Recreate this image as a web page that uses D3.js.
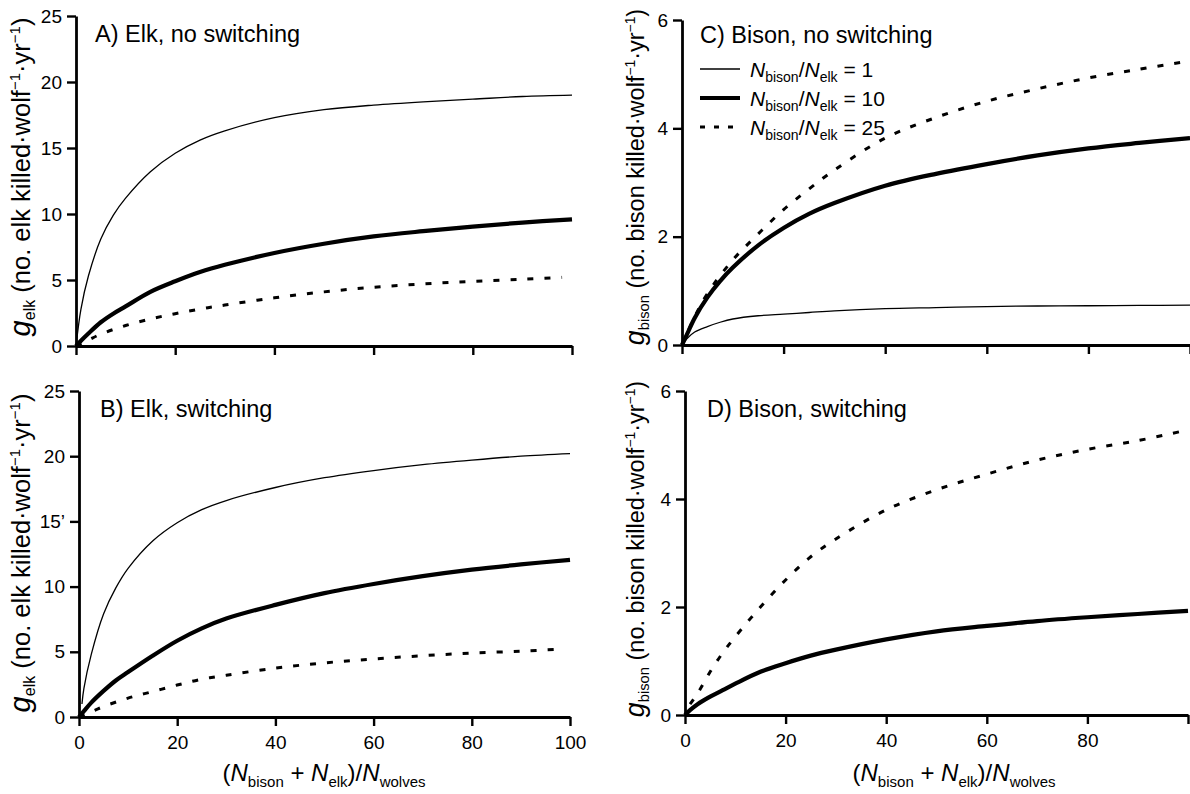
<!DOCTYPE html>
<html>
<head>
<meta charset="utf-8">
<script src="https://cdn.jsdelivr.net/npm/d3@7"></script>
<style>
  body { margin: 0; background: #fff; }
  svg { display: block; font-family: "Liberation Sans", Arial, sans-serif; }
  .axis path, .axis line { stroke: #000; }
  .axis text { font-size: 19px; fill: #000; }
</style>
</head>
<body>
<svg id="chart" width="1190" height="794"></svg>
<script>
// x grid: (N_bison + N_elk) / N_wolves
const nGrid = [0, 1, 2.5, 5, 7.5, 10, 15, 20, 25, 30, 40, 50, 60, 70, 80, 90, 100];
const nDash = [0, 2.5, 5, 10, 15, 20, 25, 30, 40, 50, 60, 70, 80, 90, 98];

// A) Elk, no switching
const elkNoSw1  = [0, 2.8, 5.3, 8.1, 9.9, 11.2, 13.2, 14.6, 15.6, 16.3, 17.3, 17.9, 18.25, 18.5, 18.7, 18.9, 19.0];
const elkNoSw10 = [0, 0.4, 0.95, 1.8, 2.45, 3.0, 4.1, 4.9, 5.6, 6.15, 7.05, 7.75, 8.3, 8.7, 9.05, 9.35, 9.6];
const elkNoSw25 = [0, 0.45, 0.9, 1.55, 2.05, 2.45, 2.8, 3.1, 3.65, 4.1, 4.45, 4.7, 4.9, 5.05, 5.2];

// B) Elk, switching
const nElkSw1   = [0.6, 1, 2.5, 5, 7.5, 10, 15, 20, 25, 30, 40, 50, 60, 70, 80, 90, 100];
const elkSw1    = [1.0, 2.2, 4.8, 7.9, 9.9, 11.4, 13.5, 14.9, 15.9, 16.6, 17.6, 18.35, 18.9, 19.35, 19.7, 20.0, 20.2];
const elkSw10   = [0, 0.45, 1.1, 2.0, 2.8, 3.45, 4.7, 5.85, 6.8, 7.55, 8.6, 9.5, 10.2, 10.8, 11.3, 11.7, 12.05];
const elkSw25   = [0, 0.4, 0.8, 1.45, 1.95, 2.45, 2.9, 3.2, 3.75, 4.15, 4.45, 4.7, 4.9, 5.05, 5.2];

// C) Bison, no switching
const nBisonDash = [0, 2.5, 5, 10, 15, 20, 25, 30, 40, 50, 60, 70, 80, 90, 99];
const bisonNoSw1  = [0, 0.12, 0.24, 0.34, 0.42, 0.48, 0.54, 0.57, 0.6, 0.63, 0.67, 0.69, 0.71, 0.72, 0.725, 0.73, 0.735];
const bisonNoSw10 = [0, 0.2, 0.5, 0.88, 1.18, 1.43, 1.84, 2.16, 2.42, 2.62, 2.94, 3.16, 3.34, 3.5, 3.63, 3.73, 3.82];
const bisonNoSw25 = [0, 0.52, 0.95, 1.57, 2.05, 2.5, 2.88, 3.23, 3.82, 4.2, 4.5, 4.73, 4.93, 5.09, 5.23];

// D) Bison, switching
const nBisonSwDash = [1, 2.5, 5, 7.5, 10, 15, 20, 25, 30, 40, 50, 60, 70, 80, 90, 99];
const bisonSw10 = [0, 0.09, 0.2, 0.34, 0.46, 0.58, 0.8, 0.96, 1.1, 1.21, 1.4, 1.55, 1.65, 1.74, 1.81, 1.87, 1.93];
const bisonSw25 = [0.2, 0.4, 0.8, 1.15, 1.45, 2.0, 2.5, 2.93, 3.26, 3.8, 4.17, 4.46, 4.72, 4.92, 5.08, 5.26];

const xTicks = [0, 20, 40, 60, 80, 100];
const xTickLabelsD = ["0", "20", "40", "60", "80", ""];
const elkTicks = [0, 5, 10, 15, 20, 25];
const elkTickLabelsB = ["0", "5", "10", "15’", "20", "25"];
const bisonTicks = [0, 2, 4, 6];

const styles = {
  r1:  {w: 1.3, dash: null},
  r10: {w: 4.2, dash: null},
  r25: {w: 3, dash: "6,11"}
};

const svg = d3.select("#chart");

function zip(xs, ys) { return xs.map((x, i) => [x, ys[i]]); }

const panels = [
  {title: "A) Elk, no switching", xr: [76, 572], yr: [346, 16], ymax: 25, yt: elkTicks, xlab: null,
   tx: 95, ty: 42, species: "elk", titleY: 177, titleX: 30, fs: 25.5,
   series: [[zip(nGrid, elkNoSw1), "r1"], [zip(nGrid, elkNoSw10), "r10"], [zip(nDash, elkNoSw25), "r25"]]},
  {title: "B) Elk, switching", xr: [79, 570], yr: [717, 391], ymax: 25, yt: elkTicks, ytl: elkTickLabelsB,
   xlab: xTicks.map(String),
   tx: 100, ty: 417, species: "elk", titleY: 553, titleX: 30, fs: 25.5,
   series: [[zip(nElkSw1, elkSw1), "r1"], [zip(nGrid, elkSw10), "r10"], [zip(nDash, elkSw25), "r25"]]},
  {title: "C) Bison, no switching", xr: [682, 1190], yr: [345, 20], ymax: 6, yt: bisonTicks, xlab: null,
   tx: 700, ty: 43, species: "bison", titleY: 177, titleX: 644, fs: 23.5,
   series: [[zip(nGrid, bisonNoSw1), "r1"], [zip(nGrid, bisonNoSw10), "r10"], [zip(nBisonDash, bisonNoSw25), "r25"]]},
  {title: "D) Bison, switching", xr: [685, 1188], yr: [715, 391], ymax: 6, yt: bisonTicks, xlab: xTickLabelsD,
   tx: 707, ty: 417, species: "bison", titleY: 549, titleX: 644, fs: 23.5,
   series: [[zip(nGrid, bisonSw10), "r10"], [zip(nBisonSwDash, bisonSw25), "r25"]]}
];

panels.forEach(p => {
  const x = d3.scaleLinear().domain([0, 100]).range(p.xr);
  const y = d3.scaleLinear().domain([0, p.ymax]).range(p.yr);
  const line = d3.line().x(d => x(d[0])).y(d => y(d[1])).curve(d3.curveCatmullRom.alpha(0.5));

  const g = svg.append("g");

  p.series.forEach(([data, key]) => {
    const s = styles[key];
    g.append("path").datum(data)
      .attr("d", line)
      .attr("fill", "none")
      .attr("stroke", "#000")
      .attr("stroke-width", s.w)
      .attr("stroke-dasharray", s.dash)
      .attr("stroke-linejoin", "round");
  });

  const xAxis = d3.axisBottom(x).tickValues(xTicks).tickSize(9).tickSizeOuter(0).tickPadding(10)
    .tickFormat((d, i) => p.xlab ? p.xlab[i] : "");
  g.append("g").attr("class", "axis")
    .attr("transform", "translate(0," + p.yr[0] + ")")
    .call(xAxis)
    .call(a => a.select(".domain").attr("stroke-width", 2.8))
    .call(a => a.selectAll(".tick line").attr("stroke-width", 2.4));

  const yAxis = d3.axisLeft(y).tickValues(p.yt).tickSize(9).tickSizeOuter(0).tickPadding(5)
    .tickFormat((d, i) => p.ytl ? p.ytl[i] : String(d));
  g.append("g").attr("class", "axis")
    .attr("transform", "translate(" + p.xr[0] + ",0)")
    .call(yAxis)
    .call(a => a.select(".domain").attr("stroke-width", 2.8))
    .call(a => a.selectAll(".tick line").attr("stroke-width", 2.4));

  // panel title
  g.append("text").attr("x", p.tx).attr("y", p.ty)
    .style("font-size", "23.5px").text(p.title);

  // y-axis title
  const k = p.fs / 25.5;
  const yt = g.append("text")
    .attr("transform", "translate(" + p.titleX + "," + p.titleY + ") rotate(-90)")
    .attr("text-anchor", "middle")
    .style("font-size", p.fs + "px");
  yt.append("tspan").style("font-style", "italic").style("font-size", (29 * k) + "px").text("g");
  yt.append("tspan").style("font-size", (16 * k) + "px").attr("dy", 5).text(p.species);
  yt.append("tspan").attr("dy", -5).text(" (no. " + p.species + " killed·wolf");
  yt.append("tspan").style("font-size", (15 * k) + "px").attr("dy", -10 * k).text("−1");
  yt.append("tspan").attr("dy", 10 * k).text("·yr");
  yt.append("tspan").style("font-size", (15 * k) + "px").attr("dy", -10 * k).text("−1");
  yt.append("tspan").attr("dy", 10 * k).text(")");

  // x-axis title
  if (p.xlab) {
    const cx = p.species === "elk" ? 324 : 954;
    const xt = g.append("text").attr("x", cx).attr("y", 781)
      .attr("text-anchor", "middle").style("font-size", "24px");
    xt.append("tspan").text("(");
    xt.append("tspan").style("font-style", "italic").text("N");
    xt.append("tspan").style("font-size", "15px").attr("dy", 6).text("bison");
    xt.append("tspan").attr("dy", -6).text(" + ");
    xt.append("tspan").style("font-style", "italic").text("N");
    xt.append("tspan").style("font-size", "15px").attr("dy", 6).text("elk");
    xt.append("tspan").attr("dy", -6).text(")/");
    xt.append("tspan").style("font-style", "italic").text("N");
    xt.append("tspan").style("font-size", "15px").attr("dy", 6).text("wolves");
  }
});

// legend in panel C
const legendRatios = ["1", "10", "25"];
const legendKeys = ["r1", "r10", "r25"];
const legendY = d3.scalePoint().domain(legendKeys).range([69, 127]);
legendKeys.forEach((k, i) => {
  const s = styles[k];
  const ly = legendY(k);
  svg.append("line").attr("x1", 700).attr("x2", 740).attr("y1", ly).attr("y2", ly)
    .attr("stroke", "#000").attr("stroke-width", s.w)
    .attr("stroke-dasharray", k === "r25" ? "5,9" : null);
  const t = svg.append("text").attr("x", 750).attr("y", ly + 8).style("font-size", "21px");
  t.append("tspan").style("font-style", "italic").text("N");
  t.append("tspan").style("font-size", "14px").attr("dy", 5).text("bison");
  t.append("tspan").attr("dy", -5).text("/");
  t.append("tspan").style("font-style", "italic").text("N");
  t.append("tspan").style("font-size", "14px").attr("dy", 5).text("elk");
  t.append("tspan").attr("dy", -5).text(" = " + legendRatios[i]);
});
</script>
</body>
</html>
